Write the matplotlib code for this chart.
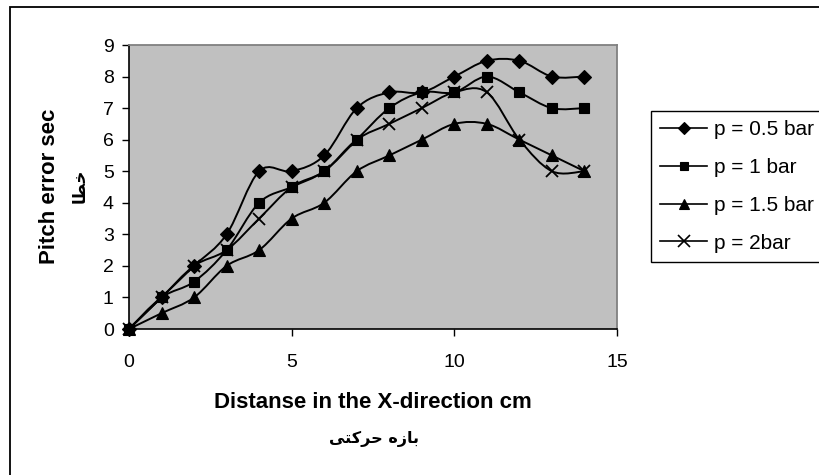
import matplotlib

matplotlib.use("Agg")

import matplotlib.pyplot as plt  # noqa: E402
from matplotlib.path import Path  # noqa: E402
from matplotlib.patches import PathPatch, Rectangle  # noqa: E402
from matplotlib.lines import Line2D  # noqa: E402

plt.rcParams["font.family"] = ["Liberation Sans", "DejaVu Sans"]

distance = [0, 1, 2, 3, 4, 5, 6, 7, 8, 9, 10, 11, 12, 13, 14]
p_05 = [0, 1, 2, 3, 5, 5, 5.5, 7, 7.5, 7.5, 8, 8.5, 8.5, 8, 8]
p_1 = [0, 1, 1.5, 2.5, 4, 4.5, 5, 6, 7, 7.5, 7.5, 8, 7.5, 7, 7]
p_15 = [0, 0.5, 1, 2, 2.5, 3.5, 4, 5, 5.5, 6, 6.5, 6.5, 6, 5.5, 5]
p_2 = [0, 1, 2, 2.5, 3.5, 4.5, 5, 6, 6.5, 7, 7.5, 7.5, 6, 5, 5]

series_labels = ["p = 0.5 bar", "p = 1 bar", "p = 1.5 bar", "p = 2bar"]
series_markers = ["D", "s", "^", "x"]
series_sizes = [7, 7, 8, 9]

x_title = "Distanse in the X-direction cm"
# Persian text, pre-shaped into presentation forms in visual order
x_title_fa = "\uFBFD\uFE98\uFB90\uFEAE\uFEA3 \uFEE9\uFEAF\uFE8E\uFE91"  # بازه حرکتی
y_title = "Pitch error sec"
y_title_fa = "\uFE8E\uFEC4\uFEA7"  # خطا


def smooth_path(xs, ys):
    """Excel-style smoothed line: cubic Bezier through every point."""
    pts = list(zip(xs, ys))
    verts = [pts[0]]
    codes = [Path.MOVETO]
    n = len(pts)
    for i in range(n - 1):
        p0 = pts[max(i - 1, 0)]
        p1 = pts[i]
        p2 = pts[i + 1]
        p3 = pts[min(i + 2, n - 1)]
        c1 = (p1[0] + (p2[0] - p0[0]) / 6, p1[1] + (p2[1] - p0[1]) / 6)
        c2 = (p2[0] - (p3[0] - p1[0]) / 6, p2[1] - (p3[1] - p1[1]) / 6)
        verts += [c1, c2, p2]
        codes += [Path.CURVE4] * 3
    return Path(verts, codes)


fig = plt.figure(figsize=(8.2, 4.75), dpi=100)
fig.patches.append(
    Rectangle((10 / 820, -0.1), 1.2, 1 - 7 / 475 + 0.1, transform=fig.transFigure,
              fill=False, edgecolor="black", linewidth=1.3)
)

ax = fig.add_axes([129 / 820, 1 - 329 / 475, 488 / 820, 284 / 475])
ax.set_facecolor("#c0c0c0")

handles = []
for values, label, marker, size in zip([p_05, p_1, p_15, p_2], series_labels, series_markers, series_sizes):
    ax.add_patch(PathPatch(smooth_path(distance, values), fill=False, edgecolor="black",
                           linewidth=1.4, zorder=3))
    ax.plot(distance, values, linestyle="none", marker=marker, markersize=size,
            color="black", markeredgewidth=1.3 if marker == "x" else 0.8, zorder=4, clip_on=False)
    handles.append(Line2D([], [], color="black", linewidth=1.2, marker=marker,
                          markersize=size * 0.9, markeredgewidth=1.2 if marker == "x" else 0.8))

ax.set_xlim(0, 15)
ax.set_ylim(0, 9)
ax.set_xticks([0, 5, 10, 15])
ax.set_yticks(range(10))
ax.tick_params(direction="out", length=5, width=1, labelsize=14, pad=13)
ax.tick_params(axis="y", pad=6)
for side in ["top", "right"]:
    ax.spines[side].set_color("#808080")
    ax.spines[side].set_linewidth(1.3)
for side in ["left", "bottom"]:
    ax.spines[side].set_color("black")
    ax.spines[side].set_linewidth(1.2)

fig.text(50 / 820, 1 - 186 / 475, y_title, rotation=90, ha="center", va="center",
         fontsize=16, fontweight="bold")
fig.text(80 / 820, 1 - 186 / 475, y_title_fa, rotation=90, ha="center", va="center",
         fontsize=12, fontweight="bold", family=["DejaVu Sans"])
fig.text(373 / 820, 1 - 403 / 475, x_title, ha="center", va="center",
         fontsize=16, fontweight="bold")
fig.text(374 / 820, 1 - 439 / 475, x_title_fa, ha="center", va="center",
         fontsize=11.5, fontweight="bold", family=["DejaVu Sans"])

leg = fig.legend(handles, series_labels, loc="upper left", bbox_to_anchor=(651 / 820, 1 - 111 / 475),
                 fontsize=15, frameon=True, fancybox=False, framealpha=1, edgecolor="black",
                 handlelength=2.26, handletextpad=0.3, labelspacing=0.9, borderpad=0.45,
                 borderaxespad=0)
leg.get_frame().set_linewidth(1.0)

fig.savefig("out.png", dpi=100)
